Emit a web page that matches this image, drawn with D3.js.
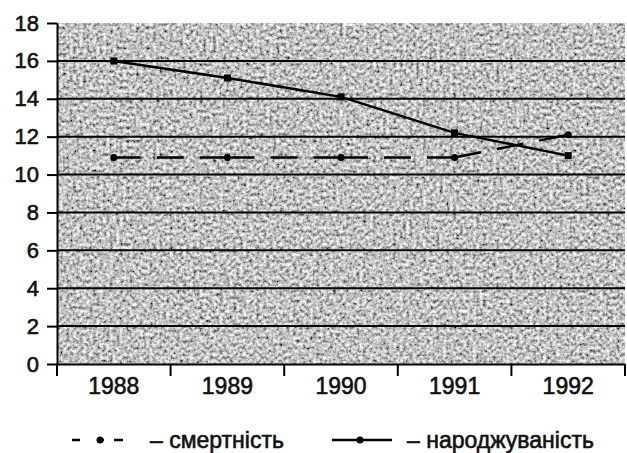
<!DOCTYPE html>
<html>
<head>
<meta charset="utf-8">
<script src="https://cdn.jsdelivr.net/npm/d3@7"></script>
<style>
  body { margin: 0; background: #fff; }
  svg { display: block; font-family: "Liberation Sans", Arial, sans-serif; }
</style>
</head>
<body>
<div id="chart"></div>
<script>
const years = ['1988', '1989', '1990', '1991', '1992'];
const birthRate = [16.0, 15.1, 14.1, 12.2, 11.0];   // народжуваність
const deathRate = [10.9, 10.9, 10.9, 10.9, 12.1];   // смертність
const yTicks = [0, 2, 4, 6, 8, 10, 12, 14, 16, 18];

const W = 627, H = 453;
const plot = { left: 57, right: 625, top: 23, bottom: 364 };

const svg = d3.select('#chart')
  .append('svg')
  .attr('width', W)
  .attr('height', H);

const x = d3.scaleBand().domain(years).range([plot.left, plot.right]);
const y = d3.scaleLinear().domain([0, 18]).range([plot.bottom, plot.top]);

// grainy grey background of the plot area
const defs = svg.append('defs');
const grain = defs.append('filter')
  .attr('id', 'grain')
  .attr('x', 0).attr('y', 0).attr('width', 1).attr('height', 1);
grain.append('feTurbulence')
  .attr('type', 'fractalNoise')
  .attr('baseFrequency', 0.3)
  .attr('numOctaves', 4)
  .attr('seed', 11);
grain.append('feColorMatrix')
  .attr('type', 'matrix')
  .attr('values', '1.5 0 0 0 -0.21  1.5 0 0 0 -0.21  1.5 0 0 0 -0.21  0 0 0 0 1');
grain.append('feGaussianBlur')
  .attr('stdDeviation', 0.6);

svg.append('rect')
  .attr('x', plot.left)
  .attr('y', plot.top)
  .attr('width', plot.right - plot.left)
  .attr('height', plot.bottom - plot.top)
  .attr('fill', '#8a8a8a')
  .attr('filter', 'url(#grain)');

// horizontal grid lines
svg.append('g')
  .selectAll('line')
  .data(yTicks.filter(d => d > 0 && d < 18))
  .enter().append('line')
  .attr('x1', plot.left)
  .attr('x2', plot.right)
  .attr('y1', d => y(d))
  .attr('y2', d => y(d))
  .attr('stroke', '#000')
  .attr('stroke-width', 2);

function inkText(sel, size) {
  sel.attr('font-size', size)
    .attr('fill', '#111')
    .attr('stroke', '#111')
    .attr('stroke-width', 0.6)
    .attr('font-family', '"Liberation Sans", Arial, sans-serif');
}

// y axis
const yAxis = svg.append('g')
  .attr('transform', `translate(${plot.left},0)`)
  .call(d3.axisLeft(y).tickValues(yTicks).tickSize(10).tickSizeOuter(0).tickPadding(8));
yAxis.select('.domain').attr('stroke-width', 2);
yAxis.selectAll('.tick line').attr('stroke-width', 2);
yAxis.selectAll('.tick text').call(inkText, 22);

// x axis
const xAxis = svg.append('g')
  .attr('transform', `translate(0,${plot.bottom})`)
  .call(d3.axisBottom(x).tickSize(0).tickSizeOuter(0).tickPadding(14));
xAxis.select('.domain').attr('stroke-width', 2);
xAxis.selectAll('.tick text').call(inkText, 23);

// tick marks at band boundaries
const edges = years.map(d => x(d)).concat([x.range()[1]]);
svg.append('g')
  .selectAll('line')
  .data(edges)
  .enter().append('line')
  .attr('x1', d => d)
  .attr('x2', d => d)
  .attr('y1', plot.bottom)
  .attr('y2', plot.bottom + 12)
  .attr('stroke', '#000')
  .attr('stroke-width', 2);

const cx = d => x(d) + x.bandwidth() / 2;

// смертність: dashed, each segment restarts its dash pattern
d3.pairs(years.map((d, i) => [cx(d), y(deathRate[i])])).forEach(p => {
  svg.append('path')
    .attr('d', d3.line()(p))
    .attr('fill', 'none')
    .attr('stroke', '#000')
    .attr('stroke-width', 2.5)
    .attr('stroke-dasharray', '27,16');
});
svg.append('g')
  .selectAll('circle')
  .data(years)
  .enter().append('circle')
  .attr('cx', d => cx(d))
  .attr('cy', (d, i) => y(deathRate[i]))
  .attr('r', 3.5)
  .attr('fill', '#000');

// народжуваність: solid
svg.append('path')
  .datum(birthRate)
  .attr('d', d3.line().x((d, i) => cx(years[i])).y(d => y(d)))
  .attr('fill', 'none')
  .attr('stroke', '#000')
  .attr('stroke-width', 2.5);
svg.append('g')
  .selectAll('rect')
  .data(years)
  .enter().append('rect')
  .attr('x', d => cx(d) - 3.5)
  .attr('y', (d, i) => y(birthRate[i]) - 3.5)
  .attr('width', 7)
  .attr('height', 7)
  .attr('fill', '#000');

// legend
const legend = svg.append('g').attr('transform', 'translate(0,440)');

legend.append('line')
  .attr('x1', 72).attr('x2', 123)
  .attr('y1', 0).attr('y2', 0)
  .attr('stroke', '#000')
  .attr('stroke-width', 2.5)
  .attr('stroke-dasharray', '8,17,7,10,9');
legend.append('circle')
  .attr('cx', 100).attr('cy', 0).attr('r', 3.5)
  .attr('fill', '#000');
legend.append('text')
  .attr('x', 150)
  .attr('y', 8)
  .call(inkText, 23)
  .text('– смертність');

legend.append('line')
  .attr('x1', 332).attr('x2', 392)
  .attr('y1', 0).attr('y2', 0)
  .attr('stroke', '#000')
  .attr('stroke-width', 2.5);
legend.append('circle')
  .attr('cx', 360).attr('cy', 0).attr('r', 3.5)
  .attr('fill', '#000');
legend.append('text')
  .attr('x', 407)
  .attr('y', 8)
  .call(inkText, 23)
  .text('– народжуваність');
</script>
</body>
</html>
